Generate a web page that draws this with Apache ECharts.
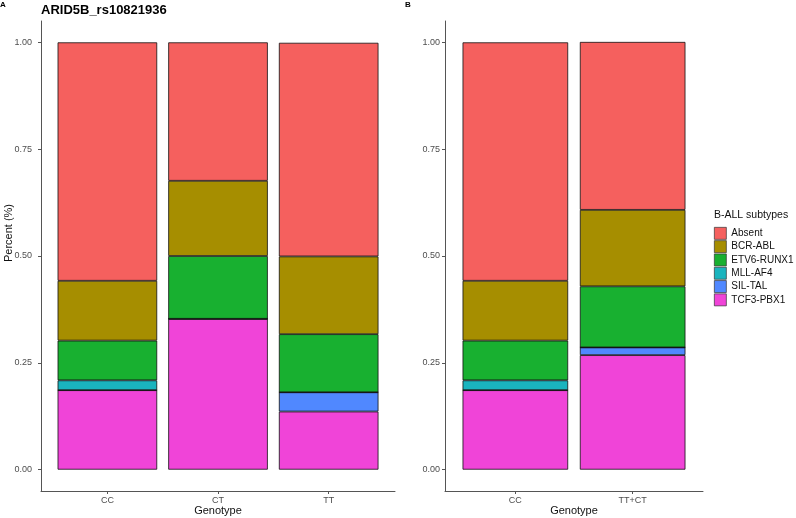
<!DOCTYPE html>
<html>
<head>
<meta charset="utf-8">
<script src="https://cdn.jsdelivr.net/npm/echarts@6/dist/echarts.min.js"></script>
<style>html,body{margin:0;padding:0;background:#fff;overflow:hidden;}#c{width:796px;height:518px;}</style>
</head>
<body>
<div id="c"></div>
<script>
const categoriesA = ['CC', 'CT', 'TT'];
const categoriesB = ['CC', 'TT+CT'];
const subtypes = ['Absent', 'BCR-ABL', 'ETV6-RUNX1', 'MLL-AF4', 'SIL-TAL', 'TCF3-PBX1'];
const yTicks = [0, 0.25, 0.5, 0.75, 1];

// Panel A proportions per subtype (CC, CT, TT)
const absentA = [0.558, 0.324, 0.500];
const bcrAblA = [0.140, 0.176, 0.182];
const etv6A   = [0.093, 0.147, 0.136];
const mllA    = [0.023, 0.000, 0.000];
const silA    = [0.000, 0.000, 0.045];
const tcf3A   = [0.186, 0.353, 0.136];

// Panel B proportions per subtype (CC, TT+CT)
const absentB = [0.558, 0.393];
const bcrAblB = [0.140, 0.179];
const etv6B   = [0.093, 0.143];
const mllB    = [0.023, 0.000];
const silB    = [0.000, 0.018];
const tcf3B   = [0.186, 0.268];

const colors = {
  'Absent': '#F5605E',
  'BCR-ABL': '#A68E00',
  'ETV6-RUNX1': '#18B030',
  'MLL-AF4': '#1AB4BE',
  'SIL-TAL': '#5088FF',
  'TCF3-PBX1': '#F044D8'
};

const valsA = {'Absent': absentA, 'BCR-ABL': bcrAblA, 'ETV6-RUNX1': etv6A, 'MLL-AF4': mllA, 'SIL-TAL': silA, 'TCF3-PBX1': tcf3A};
const valsB = {'Absent': absentB, 'BCR-ABL': bcrAblB, 'ETV6-RUNX1': etv6B, 'MLL-AF4': mllB, 'SIL-TAL': silB, 'TCF3-PBX1': tcf3B};

const stackOrder = subtypes.slice().reverse(); // bottom first

const FONT = 'Liberation Sans';
const axisLineStyle = {color: '#555', width: 1};
const tickLabelStyle = {color: '#4d4d4d', fontSize: 9, fontFamily: FONT};

// Outer frame axes (lines, y ticks, names)
function frameX(gi) {
  return {
    type: 'value', gridIndex: gi, min: 0, max: 1,
    name: 'Genotype', nameLocation: 'middle', nameGap: 14, nameMoveOverlap: false,
    nameTextStyle: {color: '#111', fontSize: 11, fontFamily: FONT},
    axisLine: {show: true, onZero: false, lineStyle: axisLineStyle},
    axisTick: {show: false}, axisLabel: {show: false}, splitLine: {show: false}
  };
}
function frameY(gi, withName, margin) {
  return {
    type: 'value', gridIndex: gi, min: -0.05, max: 1.05,
    name: withName ? 'Percent (%)' : '', nameLocation: 'middle', nameGap: 27, nameMoveOverlap: false,
    nameTextStyle: {color: '#111', fontSize: 11, fontFamily: FONT, padding: [0, 0, 0, 46]},
    axisLine: {show: true, onZero: false, lineStyle: axisLineStyle},
    axisTick: {show: true, length: 3, lineStyle: axisLineStyle, customValues: yTicks},
    axisLabel: Object.assign({customValues: yTicks, margin: margin,
      formatter: v => v.toFixed(2)}, tickLabelStyle),
    splitLine: {show: false}
  };
}
// Inner category axes (bars)
function barX(gi, cats) {
  return {
    type: 'category', gridIndex: gi, data: cats, boundaryGap: true,
    axisLine: {show: false, onZero: false},
    axisTick: {show: true, alignWithLabel: true, length: 3, lineStyle: axisLineStyle},
    axisLabel: Object.assign({margin: 5}, tickLabelStyle),
    splitLine: {show: false}
  };
}
function barY(gi) {
  return {
    type: 'value', gridIndex: gi, min: -0.05, max: 1.05, show: false,
    splitLine: {show: false}
  };
}

const series = [];
[[valsA, 1], [valsB, 3]].forEach(([vals, gi]) => {
  stackOrder.forEach(name => {
    series.push({
      type: 'bar', name: name, stack: 'p' + gi,
      xAxisIndex: gi, yAxisIndex: gi, barWidth: '90%',
      itemStyle: {color: colors[name], borderColor: '#111', borderWidth: 0.8},
      emphasis: {disabled: true},
      data: vals[name]
    });
  });
});

const gridBase = {top: 21, bottom: 27, containLabel: false, outerBoundsMode: 'none'};
const chart = echarts.init(document.getElementById('c'), null, {renderer: 'canvas'});
chart.setOption({
  animation: false,
  backgroundColor: '#fff',
  title: [
    {text: 'A', left: 0, top: 1, padding: 0, textStyle: {fontSize: 8, fontWeight: 'bold', color: '#000', fontFamily: FONT}},
    {text: 'ARID5B_rs10821936', left: 41, top: 4, padding: 0, textStyle: {fontSize: 13, fontWeight: 'bold', color: '#000', fontFamily: FONT}},
    {text: 'B', left: 405, top: 1, padding: 0, textStyle: {fontSize: 8, fontWeight: 'bold', color: '#000', fontFamily: FONT}},
    {text: 'B-ALL subtypes', left: 714, top: 210, padding: 0, textStyle: {fontSize: 10.5, fontWeight: 'normal', color: '#111', fontFamily: FONT}}
  ],
  legend: {
    data: subtypes, orient: 'vertical', left: 714, top: 227, padding: 0,
    itemWidth: 12, itemHeight: 12, itemGap: 0.6, icon: 'rect',
    itemStyle: {borderColor: '#333', borderWidth: 0.7},
    textStyle: {fontSize: 10, lineHeight: 12, color: '#111', fontFamily: FONT},
    selectedMode: false
  },
  grid: [
    Object.assign({left: 41, right: 401}, gridBase),
    Object.assign({left: 52.06, right: 412.0}, gridBase),
    Object.assign({left: 445, right: 93}, gridBase),
    Object.assign({left: 456.7, right: 104.7}, gridBase)
  ],
  xAxis: [frameX(0), barX(1, categoriesA), frameX(2), barX(3, categoriesB)],
  yAxis: [frameY(0, true, 9), barY(1), frameY(2, false, 5), barY(3)],
  series: series
});
</script>
</body>
</html>
